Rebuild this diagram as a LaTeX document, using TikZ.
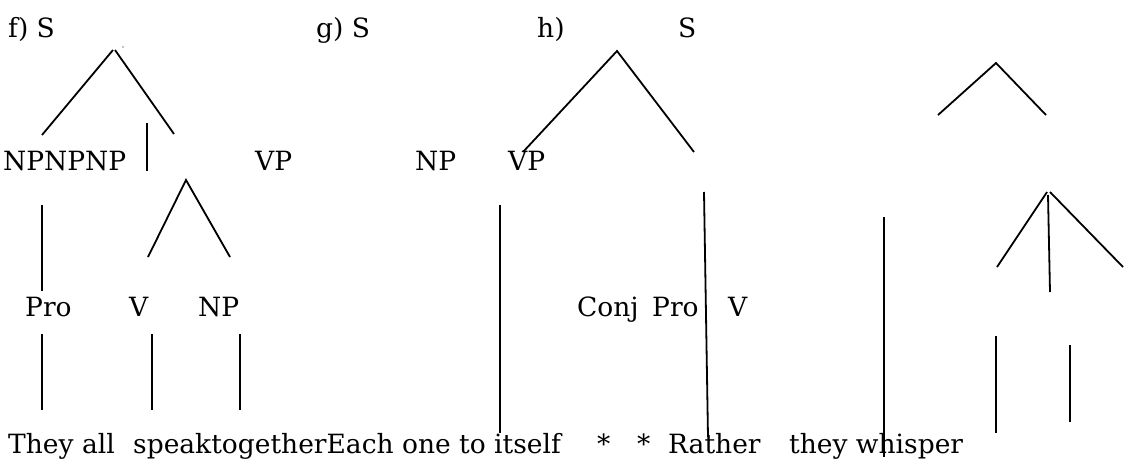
\documentclass[tikz,border=0pt]{standalone}
\usepackage{fontspec}
\setmainfont{DejaVu Serif}
\begin{document}
\begin{tikzpicture}[x=1pt,y=-1pt,
  lbl/.style={anchor=base west,inner sep=0pt,font=\fontsize{26.5}{32}\selectfont},
  branch/.style={line width=1.8pt,line cap=butt}]
\useasboundingbox[fill=white] (0,0) rectangle (1128,463);

% ---- labels, row by row (baselines 37, 170, 316, 453)
\node[lbl] (ftag) at (8,37)   {f) S};
\node[lbl] (gtag) at (316,37) {g) S};
\node[lbl] (htag) at (537,37) {h)};
\node[lbl] (hS)   at (678,37) {S};

\node[lbl] (fNP)  at (3,170)   {NPNPNP};
\node[lbl] (fVP)  at (255,170) {VP};
\node[lbl] (hNP)  at (415,170) {NP};
\node[lbl] (hVP)  at (508,170) {VP};

\node[lbl] (fPro) at (25,316)  {Pro};
\node[lbl] (fV)   at (129,316) {V};
\node[lbl] (fNP2) at (198,316) {NP};
\node[lbl] (hConj) at (577,316) {Conj};
\node[lbl] (hPro) at (652,316) {Pro};
\node[lbl] (hV)   at (728,316) {V};

\node[lbl] (w1) at (8,453)   {They all};
\node[lbl] (w2) at (133,453) {speaktogetherEach one to itself};
\node[lbl] (w3) at (597,453) {*};
\node[lbl] (w4) at (637,453) {*};
\node[lbl] (w5) at (668,453) {Rather};
\node[lbl] (w6) at (789,453) {they whisper};

% ---- tree f)
\coordinate (fTop)  at (113,50);
\coordinate (fTopR) at (115,50);
\coordinate (fL)    at (42,135);
\coordinate (fR)    at (174,134);
\coordinate (fMidA) at (147,123);
\coordinate (fMidB) at (147,171);
\coordinate (fSub)  at (186,180);
\coordinate (fSubL) at (148,257);
\coordinate (fSubR) at (230,257);
\coordinate (fProA) at (42,205);
\coordinate (fProB) at (42,291);
\coordinate (fT1a)  at (42,334);
\coordinate (fT1b)  at (42,410);
\coordinate (fT2a)  at (152,334);
\coordinate (fT2b)  at (152,410);
\coordinate (fT3a)  at (240,334);
\coordinate (fT3b)  at (240,410);
\coordinate (fDot)  at (123,47);

\draw[branch] (fL) -- (fTop);
\draw[branch] (fTopR) -- (fR);
\draw[branch] (fMidA) -- (fMidB);
\draw[branch] (fSubL) -- (fSub) -- (fSubR);
\draw[branch] (fProA) -- (fProB);
\draw[branch] (fT1a) -- (fT1b);
\draw[branch] (fT2a) -- (fT2b);
\draw[branch] (fT3a) -- (fT3b);
\fill (fDot) circle (0.7pt);

% ---- tree h)
\coordinate (hTop) at (617,51);
\coordinate (hL)   at (523,152);
\coordinate (hR)   at (694,152);
\coordinate (hV1a) at (500,205);
\coordinate (hV1b) at (500,433);
\coordinate (hV2a) at (704,192);
\coordinate (hV2b) at (708,437);

\draw[branch] (hL) -- (hTop) -- (hR);
\draw[branch] (hV1a) -- (hV1b);
\draw[branch] (hV2a) -- (hV2b);

% ---- right-hand branches
\coordinate (rTop)  at (996,63);
\coordinate (rL)    at (938,115);
\coordinate (rR)    at (1046,115);
\coordinate (rLong1) at (884,217);
\coordinate (rLong2) at (884,457);
\coordinate (rSubL) at (1047,192);
\coordinate (rSubM) at (1048,195);
\coordinate (rSubR) at (1050,192);
\coordinate (rEndL) at (997,267);
\coordinate (rEndM) at (1050,292);
\coordinate (rEndR) at (1123,267);
\coordinate (rT1a)  at (996,336);
\coordinate (rT1b)  at (996,433);
\coordinate (rT2a)  at (1070,345);
\coordinate (rT2b)  at (1070,422);

\draw[branch] (rL) -- (rTop) -- (rR);
\draw[branch] (rLong1) -- (rLong2);
\draw[branch] (rSubL) -- (rEndL);
\draw[branch] (rSubM) -- (rEndM);
\draw[branch] (rSubR) -- (rEndR);
\draw[branch] (rT1a) -- (rT1b);
\draw[branch] (rT2a) -- (rT2b);
\end{tikzpicture}
\end{document}
